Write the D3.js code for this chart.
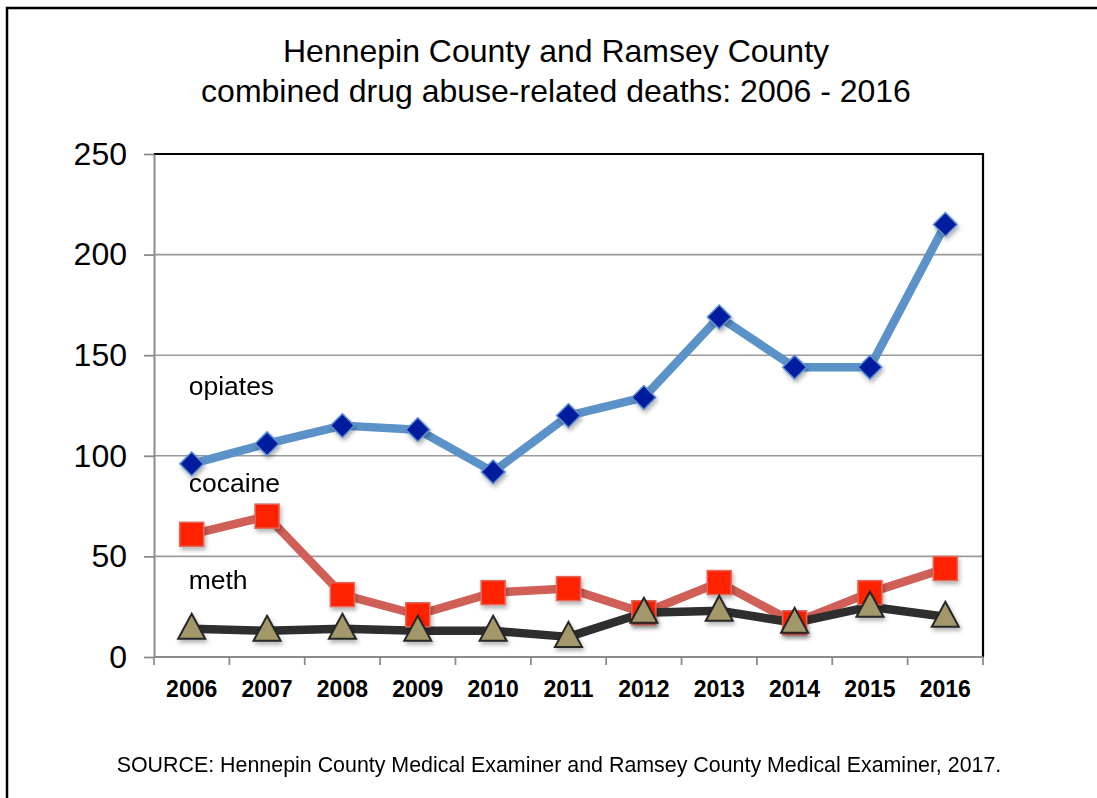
<!DOCTYPE html>
<html>
<head>
<meta charset="utf-8">
<script src="https://cdn.jsdelivr.net/npm/d3@7"></script>
<style>
  html, body { margin: 0; padding: 0; background: #fff; }
  svg { display: block; font-family: "Liberation Sans", Arial, Helvetica, sans-serif; }
</style>
</head>
<body>
<svg id="chart" width="1097" height="798"></svg>
<script>
// Drug abuse-related deaths, Hennepin + Ramsey counties combined
const years = ["2006", "2007", "2008", "2009", "2010", "2011", "2012", "2013", "2014", "2015", "2016"];
const opiates = [96, 106, 115, 113, 92, 120, 129, 169, 144, 144, 215];
const cocaine = [61, 70, 31, 21, 32, 34, 22, 37, 17, 32, 44];
const meth = [14, 13, 14, 13, 13, 10, 22, 23, 17, 25, 20];
const yTicks = [0, 50, 100, 150, 200, 250];

const titleLines = ["Hennepin County and Ramsey County",
                    "combined drug abuse-related deaths: 2006 - 2016"];
const sourceText = "SOURCE: Hennepin County Medical Examiner and Ramsey County Medical Examiner, 2017.";

// series labels, placed at a data value on the y axis
const seriesLabels = [
  { text: "opiates", value: 130 },
  { text: "cocaine", value: 82 },
  { text: "meth", value: 34 }
];

const svg = d3.select("#chart");

// outer frame (runs off the right and bottom edges)
svg.append("path")
  .attr("d", "M7,1200 L7,8 L1200,8")
  .attr("fill", "none")
  .attr("stroke", "#000")
  .attr("stroke-width", 2.5);

const plot = { left: 154, right: 983, top: 154, bottom: 657 };

const x = d3.scaleBand().domain(years).range([plot.left, plot.right]).padding(0);
const y = d3.scaleLinear().domain([0, 250]).range([plot.bottom, plot.top]);
const cx = d => x(d) + x.bandwidth() / 2;

// drop shadow for markers
const defs = svg.append("defs");
const f = defs.append("filter").attr("id", "shadow")
  .attr("x", "-50%").attr("y", "-50%").attr("width", "200%").attr("height", "200%");
f.append("feDropShadow")
  .attr("dx", 1.5).attr("dy", 3).attr("stdDeviation", 2)
  .attr("flood-color", "#000").attr("flood-opacity", 0.3);

// title
svg.append("g").selectAll("text").data(titleLines).join("text")
  .attr("x", 556)
  .attr("y", (d, i) => 62 + i * 40)
  .attr("text-anchor", "middle")
  .attr("font-size", 32)
  .attr("fill", "#000")
  .text(d => d);

// horizontal gridlines
svg.append("g").selectAll("line").data(yTicks.filter(v => v > 0 && v < 250)).join("line")
  .attr("x1", plot.left).attr("x2", plot.right)
  .attr("y1", d => y(d)).attr("y2", d => y(d))
  .attr("stroke", "#9a9a9a").attr("stroke-width", 1.6);

// plot border: black top and right
svg.append("path")
  .attr("d", `M${plot.left},${y(250)} L${plot.right},${y(250)} L${plot.right},${plot.bottom}`)
  .attr("fill", "none").attr("stroke", "#000").attr("stroke-width", 2.2);

// y axis
const yAxis = svg.append("g")
  .attr("transform", `translate(${plot.left},0)`)
  .call(d3.axisLeft(y).tickValues(yTicks).tickSize(10).tickPadding(17).tickSizeOuter(0));
yAxis.select(".domain").attr("stroke", "#8c8c8c").attr("stroke-width", 2);
yAxis.selectAll(".tick line").attr("stroke", "#8c8c8c").attr("stroke-width", 1.8);
yAxis.selectAll(".tick text")
  .attr("font-size", 32).attr("fill", "#000")
  .attr("font-family", "Liberation Sans, Arial, sans-serif");

// x axis: ticks on category boundaries, labels at centres
const xAxisG = svg.append("g").attr("transform", `translate(0,${plot.bottom})`);
xAxisG.append("line")
  .attr("x1", plot.left).attr("x2", plot.right)
  .attr("stroke", "#8c8c8c").attr("stroke-width", 2);
const boundaries = years.map(d => x(d)).concat([plot.right]);
xAxisG.selectAll("line.tk").data(boundaries).join("line")
  .attr("class", "tk")
  .attr("x1", d => d).attr("x2", d => d)
  .attr("y1", 0).attr("y2", 8)
  .attr("stroke", "#8c8c8c").attr("stroke-width", 1.8);
xAxisG.selectAll("text").data(years).join("text")
  .attr("x", d => cx(d))
  .attr("y", 40)
  .attr("text-anchor", "middle")
  .attr("font-size", 23)
  .attr("font-weight", "bold")
  .attr("fill", "#000")
  .text(d => d);

// series lines
const line = d3.line().x((d, i) => cx(years[i])).y(d => y(d));

const series = [
  { key: "meth", values: meth, color: "#2e2e2e" },
  { key: "cocaine", values: cocaine, color: "#cf5f57" },
  { key: "opiates", values: opiates, color: "#5b93c8" }
];

// draw lines first, markers on top
series.slice().reverse().forEach(s => {
  svg.append("path")
    .datum(s.values)
    .attr("d", line)
    .attr("fill", "none")
    .attr("stroke", s.color)
    .attr("stroke-width", 8.5)
    .attr("stroke-linejoin", "round");
});

// opiates: diamonds
svg.append("g").attr("filter", "url(#shadow)")
  .selectAll("path").data(opiates).join("path")
  .attr("d", d3.symbol(d3.symbolDiamond2, 360)())
  .attr("transform", (d, i) => `translate(${cx(years[i])},${y(d)})`)
  .attr("fill", "#001a9e")
  .attr("stroke", "#5b8fd0")
  .attr("stroke-width", 1.5);

// cocaine: squares
svg.append("g").attr("filter", "url(#shadow)")
  .selectAll("rect").data(cocaine).join("rect")
  .attr("x", (d, i) => cx(years[i]) - 12)
  .attr("y", d => y(d) - 12)
  .attr("width", 24).attr("height", 24)
  .attr("fill", "#ff2200")
  .attr("stroke", "#e0685c")
  .attr("stroke-width", 1.5);

// meth: triangles
const tri = d => {
  const h = 25, w = 27;
  return `M0,${-h * 0.6} L${w / 2},${h * 0.4} L${-w / 2},${h * 0.4} Z`;
};
svg.append("g").attr("filter", "url(#shadow)")
  .selectAll("path").data(meth).join("path")
  .attr("d", tri)
  .attr("transform", (d, i) => `translate(${cx(years[i])},${y(d)})`)
  .attr("fill", "#a3986a")
  .attr("stroke", "#262626")
  .attr("stroke-width", 2);

// series labels
svg.append("g").selectAll("text").data(seriesLabels).join("text")
  .attr("x", cx(years[0]) - 3)
  .attr("y", d => y(d.value))
  .attr("font-size", 26.5)
  .attr("fill", "#000")
  .text(d => d.text);

// source note
svg.append("text")
  .attr("x", 559)
  .attr("y", 772)
  .attr("text-anchor", "middle")
  .attr("font-size", 21.4)
  .attr("fill", "#000")
  .text(sourceText);
</script>
</body>
</html>
